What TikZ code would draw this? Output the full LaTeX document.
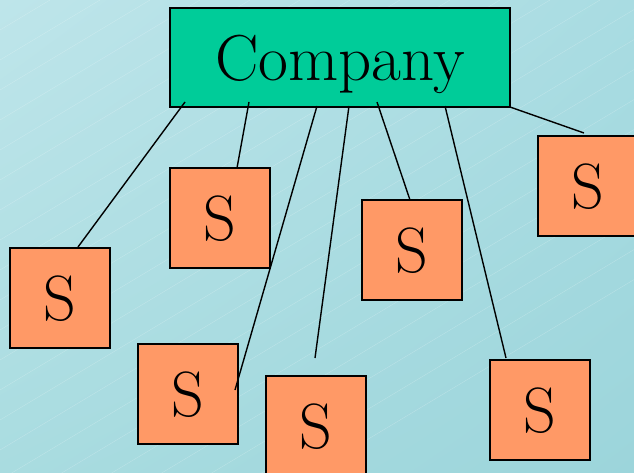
\documentclass[tikz,border=0pt]{standalone}
\usetikzlibrary{shadings}
\begin{document}
\begin{tikzpicture}[x=1pt,y=-1pt,
  company/.style={draw=black,line width=1.6pt,fill=compgreen,minimum width=340pt,minimum height=99pt,inner sep=0pt,text depth=0pt,font=\rmfamily\fontsize{65}{65}\selectfont},
  sbox/.style={draw=black,line width=1.6pt,fill=sorange,minimum width=100pt,minimum height=100pt,inner sep=0pt,text depth=0pt,font=\rmfamily\fontsize{64}{64}\selectfont},
  link/.style={draw=black,line width=1.4pt}]
\definecolor{compgreen}{HTML}{00CC99}
\definecolor{sorange}{HTML}{FF9966}
\definecolor{bgul}{HTML}{BEE5EA}
\definecolor{bgur}{HTML}{A9DCE2}
\definecolor{bgll}{HTML}{A9DCE0}
\definecolor{bglr}{HTML}{9CD5DB}
\useasboundingbox (0,0) rectangle (634,473);
\shade[upper left=bgul,upper right=bgur,lower left=bgll,lower right=bglr] (0,0) rectangle (634,473);
\begin{scope}
\clip (0,0) rectangle (634,473);
\foreach \k in {-300,-250,...,1100}
  \draw[white,opacity=0.25,line width=0.4pt] (\k,0) -- ++(-800,480);
\end{scope}
\node[company] (comp) at (340,57.5) {Company};
\node[sbox] (s1) at (60,298) {S};
\node[sbox] (s2) at (220,218) {S};
\node[sbox] (s3) at (412,250) {S};
\node[sbox] (s4) at (588,186) {S};
\node[sbox] (s5) at (188,394) {S};
\node[sbox] (s6) at (316,426) {S};
\node[sbox] (s7) at (540,410) {S};
% connector endpoints
\coordinate (c1) at (185,102); \coordinate (e1) at (78,247);
\coordinate (c2) at (249,102); \coordinate (e2) at (237,168);
\coordinate (c3) at (317,106); \coordinate (e3) at (235,390);
\coordinate (c4) at (349,106); \coordinate (e4) at (315,358);
\coordinate (c5) at (377,102); \coordinate (e5) at (410,200);
\coordinate (c6) at (445,106); \coordinate (e6) at (506,358);
\coordinate (c7) at (510,107); \coordinate (e7) at (584,133);
\foreach \i in {1,...,7} \draw[link] (c\i) -- (e\i);
\end{tikzpicture}
\end{document}
